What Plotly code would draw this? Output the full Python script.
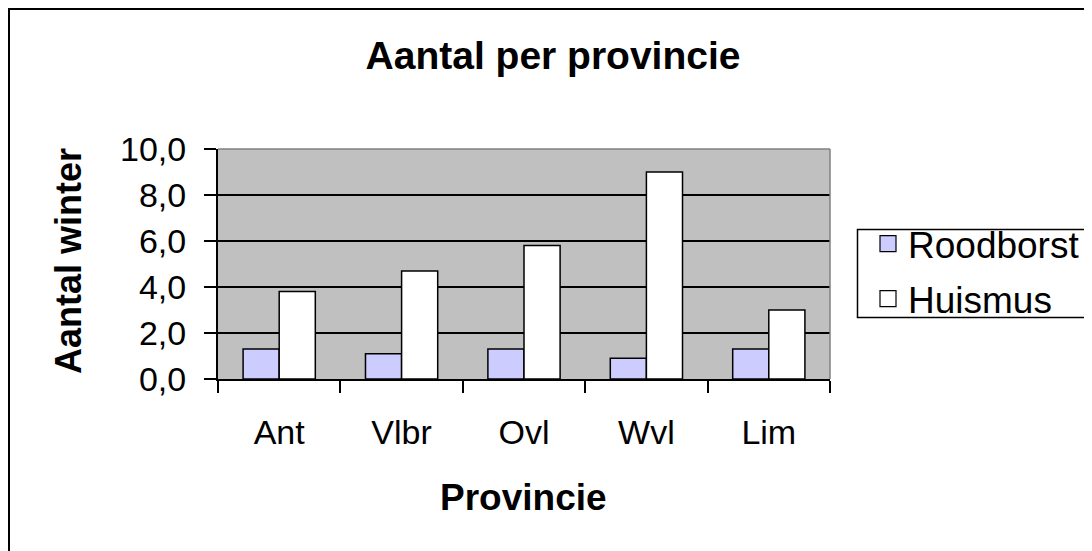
import plotly.graph_objects as go

provinces = ["Ant", "Vlbr", "Ovl", "Wvl", "Lim"]
roodborst = [1.3, 1.1, 1.3, 0.9, 1.3]
huismus = [3.8, 4.7, 5.8, 9.0, 3.0]
y_tick_vals = [0, 2, 4, 6, 8, 10]
y_tick_text = ["0,0", "2,0", "4,0", "6,0", "8,0", "10,0"]
series_names = ["Roodborst", "Huismus"]
series_colors = ["#CCCCFF", "#FFFFFF"]

# page body has an 8px margin, so the figure is drawn 8px in from the window corner
OFF = 8
SW, SH = 1092, 551                 # window size
W, H = SW - OFF, SH - OFF          # figure size
PL, PR, PT, PB = 218, 830, 149, 379  # plot area in window pixels
L, T = PL - OFF, PT - OFF
R, B = W - (PR - OFF), H - (PB - OFF)
PW = PR - PL
PH = PB - PT


def px(x):
    return (x - PL) / PW


def py(y):
    return (PB - y) / PH


FONT = "Liberation Sans, Arial, sans-serif"

fig = go.Figure()
for name, vals, col in zip(series_names, [roodborst, huismus], series_colors):
    fig.add_trace(go.Bar(
        name=name, x=provinces, y=vals,
        marker=dict(color=col, line=dict(color="black", width=1.5)),
        showlegend=False,
    ))
# legend entries with larger square swatches
for i, (name, col) in enumerate(zip(series_names, series_colors)):
    fig.add_trace(go.Scatter(
        name=name, x=[None], y=[None], mode="markers",
        marker=dict(symbol="square", size=20, color=col,
                    line=dict(color="black", width=1.2)),
        legendgroup=str(i), showlegend=True, hoverinfo="skip",
    ))

fig.update_layout(
    width=W, height=H,
    margin=dict(l=L, r=R, t=T, b=B, pad=0, autoexpand=False),
    paper_bgcolor="white",
    plot_bgcolor="#C0C0C0",
    barmode="group",
    bargap=0.41,
    bargroupgap=0,
    font=dict(family=FONT, color="black"),
    title=dict(
        text="<b>Aantal per provincie</b>",
        font=dict(size=39, family=FONT, color="black"),
        x=px(553), xref="paper", xanchor="center",
        y=1 - (55 - OFF) / H, yref="container", yanchor="middle",
    ),
    legend=dict(
        x=px(868), y=py(213), xanchor="left", yanchor="top",
        xref="paper", yref="paper",
        borderwidth=0, bgcolor="rgba(0,0,0,0)",
        font=dict(size=37, family=FONT, color="black"),
        traceorder="grouped", tracegroupgap=4,
        itemwidth=30, itemsizing="trace",
    ),
    showlegend=True,
)

fig.update_xaxes(
    type="category",
    showline=True, linecolor="black", linewidth=2,
    ticks="outside", ticklen=12, tickwidth=1.5, tickcolor="black",
    tickson="boundaries",
    showgrid=False,
    tickfont=dict(size=34, family=FONT, color="black"),
    ticklabelstandoff=22,
)
fig.update_yaxes(
    range=[0, 10],
    tickvals=y_tick_vals, ticktext=y_tick_text,
    showline=True, linecolor="black", linewidth=2,
    ticks="outside", ticklen=12, tickwidth=1.5, tickcolor="black",
    showgrid=True, gridcolor="black", gridwidth=1.5,
    zeroline=False,
    tickfont=dict(size=34, family=FONT, color="black"),
    ticklabelstandoff=11,
)

# axis titles
fig.add_annotation(
    text="<b>Provincie</b>", x=px(523), y=py(497), xref="paper", yref="paper",
    showarrow=False, xanchor="center", yanchor="middle",
    font=dict(size=37, family=FONT, color="black"),
)
fig.add_annotation(
    text="<b>Aantal winter</b>", x=px(68), y=py(261), xref="paper", yref="paper",
    showarrow=False, xanchor="center", yanchor="middle", textangle=-90,
    font=dict(size=36, family=FONT, color="black"),
)

# plot area top/right gray border
fig.add_shape(type="line", xref="paper", yref="paper", x0=0, x1=1, y0=1, y1=1,
              line=dict(color="#808080", width=1.5))
fig.add_shape(type="line", xref="paper", yref="paper", x0=1, x1=1, y0=0, y1=1,
              line=dict(color="#808080", width=1.5))

# legend box (extends past the right edge)
fig.add_shape(type="rect", xref="paper", yref="paper",
              x0=px(857.5), x1=px(1110), y0=py(317.5), y1=py(229.5),
              line=dict(color="black", width=1.5), fillcolor="white", layer="below")

# outer chart border (extends past the right/bottom edges)
fig.add_shape(type="rect", xref="paper", yref="paper",
              x0=px(9), x1=px(1110), y0=py(570), y1=py(9),
              line=dict(color="black", width=2), fillcolor="rgba(0,0,0,0)")

fig.write_html("out.html")
